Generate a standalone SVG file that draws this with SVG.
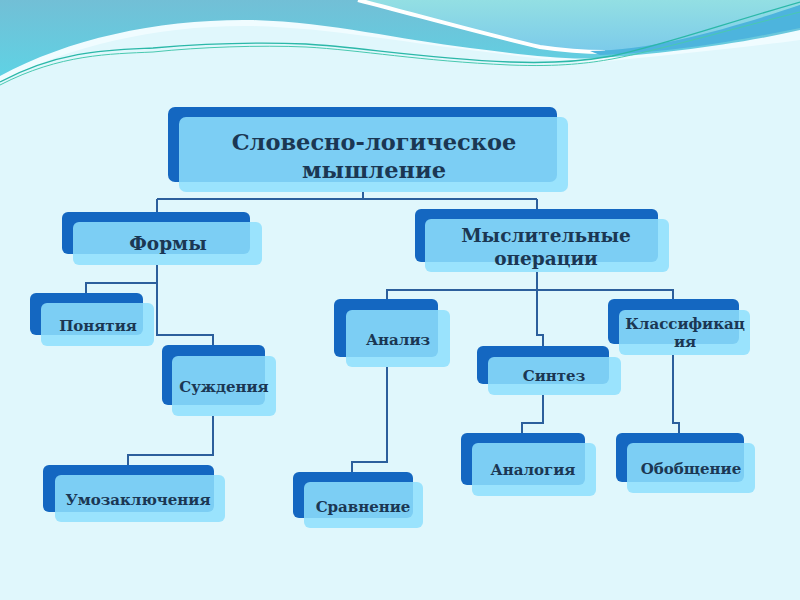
<svg xmlns="http://www.w3.org/2000/svg" width="800" height="600" viewBox="0 0 800 600">
<defs>
<linearGradient id="gTeal" x1="0" y1="0" x2="0" y2="1">
<stop offset="0" stop-color="#72bfd6"/>
<stop offset="1" stop-color="#5fd2e4"/>
</linearGradient>
<linearGradient id="gLight" x1="0" y1="0" x2="0" y2="1">
<stop offset="0" stop-color="#93dfe3"/>
<stop offset="1" stop-color="#7ccbea"/>
</linearGradient>
<style>
.back{fill:#1467c1}
.front{fill:#8ee0fd;fill-opacity:0.86}
.t{font-family:"DejaVu Serif","Liberation Serif",serif;font-weight:bold;fill:#1b3753;text-anchor:middle}
.big{font-size:22.5px}
.mid{font-size:18.5px}
.sm{font-size:15px}
.conn{fill:none;stroke:#2c5f9c;stroke-width:2}
</style>
</defs>
<rect width="800" height="600" fill="#e0f7fc"/>
<g id="background-waves">
<path d="M0,0 H800 V40 C740,48 660,56 600,62 C560,63 520,56 470,50 C400,42 330,28 250,26 C160,25 70,45 0,82 Z" fill="#f0fcff"/>
<path d="M0,0 H800 V30 C740,44 660,54 600,58 C560,60 520,54 470,48 C400,40 330,22 250,20 C160,19 70,38 0,76 Z" fill="url(#gTeal)"/>
<path d="M360,0 H800 V5 C740,28 690,46 620,50 C580,51 560,49 540,46 C480,32 420,15 360,0 Z" fill="url(#gLight)"/>
<path d="M358,0 C420,16 480,33 540,47 C560,50 580,52 605,52" fill="none" stroke="#ffffff" stroke-width="4"/>
<path d="M590,51 C660,50 740,25 800,5 V28 C740,40 680,52 600,55 Z" fill="#4db4dd"/>
<path d="M0,82 C60,50 110,50 153,48 C200,44 260,42 306,44 C360,47 420,58 510,62 C560,64 590,60 612,56 C660,46 720,25 800,2" fill="none" stroke="#2bb8a8" stroke-width="1.3"/>
<path d="M0,85 C60,54 110,54 153,52 C200,47 260,45 306,47 C360,50 420,61 510,65 C560,67 590,63 612,59 C660,50 720,32 800,12" fill="none" stroke="#49c9b0" stroke-width="1"/>
</g>
<g id="connectors">
<path class="conn" d="M363,192 V199 M157,199 H537 M157,199 V212 M537,199 V210"/>
<path class="conn" d="M157,265 V335 H213 V345 M86,293 V283 H157"/>
<path class="conn" d="M213,416 V455 H128 V465"/>
<path class="conn" d="M537,272 V335 H543 V346 M387,299 V290 H673 V299"/>
<path class="conn" d="M387,367 V462 H352 V472"/>
<path class="conn" d="M543,395 V423 H522 V433"/>
<path class="conn" d="M673,355 V423 H679 V433"/>
</g>
<g id="n-slovesno">
<rect class="back" x="168" y="107" width="389" height="75" rx="7"/>
<rect class="front" x="179" y="117" width="389" height="75" rx="7"/>
<text class="t big" x="374" y="150">Словесно-логическое</text>
<text class="t big" x="374" y="178">мышление</text>
</g>
<g id="n-formy">
<rect class="back" x="62" y="212" width="188" height="42" rx="6"/>
<rect class="front" x="73" y="222" width="189" height="43" rx="6"/>
<text class="t mid" x="168" y="250">Формы</text>
</g>
<g id="n-myslit">
<rect class="back" x="415" y="209" width="243" height="53" rx="6"/>
<rect class="front" x="425" y="219" width="244" height="53" rx="6"/>
<text class="t mid" x="546" y="242">Мыслительные</text>
<text class="t mid" x="546" y="265">операции</text>
</g>
<g id="n-ponyatiya">
<rect class="back" x="30" y="293" width="113" height="42" rx="6"/>
<rect class="front" x="41" y="303" width="113" height="43" rx="6"/>
<text class="t sm" x="98" y="331">Понятия</text>
</g>
<g id="n-suzhdeniya">
<rect class="back" x="162" y="345" width="103" height="60" rx="6"/>
<rect class="front" x="172" y="356" width="104" height="60" rx="6"/>
<text class="t sm" x="224" y="392">Суждения</text>
</g>
<g id="n-umozakl">
<rect class="back" x="43" y="465" width="171" height="47" rx="6"/>
<rect class="front" x="55" y="475" width="170" height="47" rx="6"/>
<text class="t sm" x="138" y="505">Умозаключения</text>
</g>
<g id="n-analiz">
<rect class="back" x="334" y="299" width="104" height="58" rx="6"/>
<rect class="front" x="346" y="310" width="104" height="57" rx="6"/>
<text class="t sm" x="398" y="345">Анализ</text>
</g>
<g id="n-sintez">
<rect class="back" x="477" y="346" width="132" height="38" rx="6"/>
<rect class="front" x="488" y="357" width="133" height="38" rx="6"/>
<text class="t sm" x="554" y="381">Синтез</text>
</g>
<g id="n-klass">
<rect class="back" x="608" y="299" width="131" height="45" rx="6"/>
<rect class="front" x="619" y="310" width="131" height="45" rx="6"/>
<text class="t sm" x="685" y="329">Классификац</text>
<text class="t sm" x="685" y="347">ия</text>
</g>
<g id="n-sravnenie">
<rect class="back" x="293" y="472" width="120" height="46" rx="6"/>
<rect class="front" x="304" y="482" width="119" height="46" rx="6"/>
<text class="t sm" x="363" y="512">Сравнение</text>
</g>
<g id="n-analogiya">
<rect class="back" x="461" y="433" width="124" height="52" rx="6"/>
<rect class="front" x="472" y="443" width="124" height="53" rx="6"/>
<text class="t sm" x="533" y="475">Аналогия</text>
</g>
<g id="n-obobshchenie">
<rect class="back" x="616" y="433" width="128" height="49" rx="6"/>
<rect class="front" x="627" y="443" width="128" height="50" rx="6"/>
<text class="t sm" x="691" y="474">Обобщение</text>
</g>
</svg>
